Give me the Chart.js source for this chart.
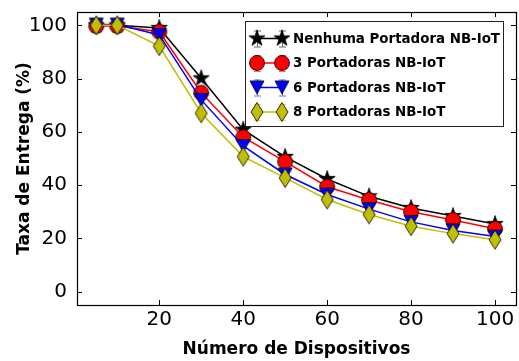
<!DOCTYPE html>
<html>
<head>
<meta charset="utf-8">
<script src="https://cdn.jsdelivr.net/npm/chart.js@4.4.1/dist/chart.umd.min.js"></script>
<style>
  html, body { margin: 0; padding: 0; background: #fff; }
  #wrap { width: 519px; height: 361px; }
</style>
</head>
<body>
<div id="wrap"><canvas id="chart" width="519" height="361"></canvas></div>
<script>
// Delivery rate vs number of devices, one series per carrier setup
const devices = [5, 10, 20, 30, 40, 50, 60, 70, 80, 90, 100];
const semPortadora = [100, 100, 99, 80.1, 60.8, 50.6, 42.3, 35.8, 31.4, 28.4, 25.4];
const portadoras3 = [99.7, 99.7, 97.6, 74.7, 58, 48.8, 39.4, 34.4, 30, 26.9, 23.6];
const portadoras6 = [100.3, 100.3, 96.4, 72, 54.7, 44, 36.5, 31, 26.2, 23, 20.7];
const portadoras8 = [100, 100, 92.2, 67, 50.7, 42.7, 34.6, 29, 24.6, 21.8, 19.5];
const seriesNames = ['Nenhuma Portadora NB-IoT', '3 Portadoras NB-IoT', '6 Portadoras NB-IoT', '8 Portadoras NB-IoT'];
const xTicks = [20, 40, 60, 80, 100];
const yTicks = [0, 20, 40, 60, 80, 100];

const FONT = 'DejaVu Sans';

// small offscreen canvases used as point styles
function makeMarker(shape, fill) {
    const c = document.createElement('canvas');
    c.width = 22; c.height = 24;
    const g = c.getContext('2d');
    const cx = 11, cy = 12;
    g.beginPath();
    if (shape === 'star') {
        const R = 8.5, r = R * 0.382;
        for (let i = 0; i < 10; i++) {
            const rad = i % 2 === 0 ? R : r;
            const a = -Math.PI / 2 + i * Math.PI / 5;
            g.lineTo(cx + rad * Math.cos(a), cy + rad * Math.sin(a));
        }
    } else if (shape === 'circle') {
        g.arc(cx, cy, 7.5, 0, Math.PI * 2);
    } else if (shape === 'triangle') {
        g.moveTo(cx - 7, cy - 6.5);
        g.lineTo(cx + 7, cy - 6.5);
        g.lineTo(cx, cy + 6.5);
    } else if (shape === 'diamond') {
        g.moveTo(cx, cy - 9.5);
        g.lineTo(cx + 6, cy);
        g.lineTo(cx, cy + 9.5);
        g.lineTo(cx - 6, cy);
    }
    g.closePath();
    g.fillStyle = fill;
    g.fill();
    g.lineWidth = 0.8;
    g.strokeStyle = '#000';
    g.stroke();
    return c;
}

const colors = ['#000000', '#ff0000', '#0000ff', '#bfbf00'];
const markers = [
    makeMarker('star', '#000000'),
    makeMarker('circle', '#ff0000'),
    makeMarker('triangle', '#0000ff'),
    makeMarker('diamond', '#bfbf00')
];
const values = [semPortadora, portadoras3, portadoras6, portadoras8];

// inward ticks on all four sides, the frame and the legend box
const framePlugin = {
    id: 'frame',
    afterDatasetsDraw(chart) {
        const ctx = chart.ctx;
        const { left, right, top, bottom } = chart.chartArea;
        const xs = chart.scales.x, ys = chart.scales.y;
        ctx.save();
        ctx.strokeStyle = '#000';
        ctx.lineWidth = 1;
        ctx.beginPath();
        xTicks.forEach(v => {
            const px = Math.round(xs.getPixelForValue(v)) + 0.5;
            ctx.moveTo(px, bottom); ctx.lineTo(px, bottom - 5);
            ctx.moveTo(px, top); ctx.lineTo(px, top + 5);
        });
        yTicks.forEach(v => {
            const py = Math.round(ys.getPixelForValue(v)) + 0.5;
            ctx.moveTo(left, py); ctx.lineTo(left + 5, py);
            ctx.moveTo(right, py); ctx.lineTo(right - 5, py);
        });
        ctx.stroke();
        ctx.lineWidth = 1.2;
        ctx.strokeRect(Math.round(left) + 0.5, Math.round(top) + 0.5, Math.round(right - left), Math.round(bottom - top));

        // legend
        const lx = 245.5, ly = 21.5, lw = 258, lh = 105;
        ctx.fillStyle = '#fff';
        ctx.fillRect(lx, ly, lw, lh);
        ctx.lineWidth = 1;
        ctx.strokeStyle = '#222';
        ctx.strokeRect(lx, ly, lw, lh);
        ctx.font = 'bold 13.4px "' + FONT + '"';
        ctx.textBaseline = 'middle';
        seriesNames.forEach((name, i) => {
            const cy = 38.5 + i * 24.5;
            const x1 = 257, x2 = 282;
            // error bar caps
            ctx.globalAlpha = 0.6;
            ctx.strokeStyle = colors[i];
            ctx.lineWidth = 1;
            ctx.beginPath();
            [x1, x2].forEach(x => {
                ctx.moveTo(x + 0.5, cy - 8); ctx.lineTo(x + 0.5, cy + 8);
                ctx.moveTo(x - 3, cy - 8 + 0.5); ctx.lineTo(x + 4, cy - 8 + 0.5);
                ctx.moveTo(x - 3, cy + 8 + 0.5); ctx.lineTo(x + 4, cy + 8 + 0.5);
            });
            ctx.stroke();
            ctx.globalAlpha = 1;
            ctx.lineWidth = 1.5;
            ctx.beginPath();
            ctx.moveTo(x1, cy); ctx.lineTo(x2, cy);
            ctx.stroke();
            const m = markers[i];
            ctx.drawImage(m, x1 - m.width / 2, cy - m.height / 2);
            ctx.drawImage(m, x2 - m.width / 2, cy - m.height / 2);
            ctx.fillStyle = '#000';
            ctx.fillText(name, 293, cy + 1);
        });
        ctx.restore();
    }
};

const datasets = values.map((vals, i) => ({
    label: seriesNames[i],
    data: devices.map((d, j) => ({ x: d, y: vals[j] })),
    borderColor: colors[i],
    borderWidth: 1.5,
    pointStyle: markers[i],
    pointRadius: 8,
    tension: 0,
    fill: false,
    clip: 12,
    order: 4 - i
}));

new Chart(document.getElementById('chart').getContext('2d'), {
    type: 'line',
    data: { datasets },
    options: {
        responsive: false,
        animation: false,
        layout: { autoPadding: false, padding: { top: 12, right: 3, left: 0, bottom: 0 } },
        plugins: { legend: { display: false }, tooltip: { enabled: false } },
        scales: {
            x: {
                type: 'linear',
                min: 0.4,
                max: 105,
                afterBuildTicks: s => { s.ticks = xTicks.map(v => ({ value: v })); },
                afterFit: s => { s.height = 56; s.paddingLeft = 0; s.paddingRight = 0; },
                grid: { display: false, drawTicks: false },
                border: { display: false },
                ticks: { color: '#000', padding: 3, maxRotation: 0, font: { family: FONT, size: 20 } },
                title: {
                    display: true,
                    text: 'Número de Dispositivos',
                    color: '#000',
                    padding: { top: 0, bottom: 1 },
                    font: { family: FONT, size: 17, weight: 'bold' }
                }
            },
            y: {
                min: -5,
                max: 105,
                afterBuildTicks: s => { s.ticks = yTicks.map(v => ({ value: v })); },
                afterFit: s => { s.width = 77; s.paddingTop = 0; s.paddingBottom = 0; },
                grid: { display: false, drawTicks: false },
                border: { display: false },
                ticks: { color: '#000', padding: 10, font: { family: FONT, size: 20 } },
                title: {
                    display: true,
                    text: 'Taxa de Entrega (%)',
                    color: '#000',
                    padding: { top: 14, bottom: 0 },
                    font: { family: FONT, size: 17, weight: 'bold' }
                }
            }
        }
    },
    plugins: [framePlugin]
});
</script>
</body>
</html>
